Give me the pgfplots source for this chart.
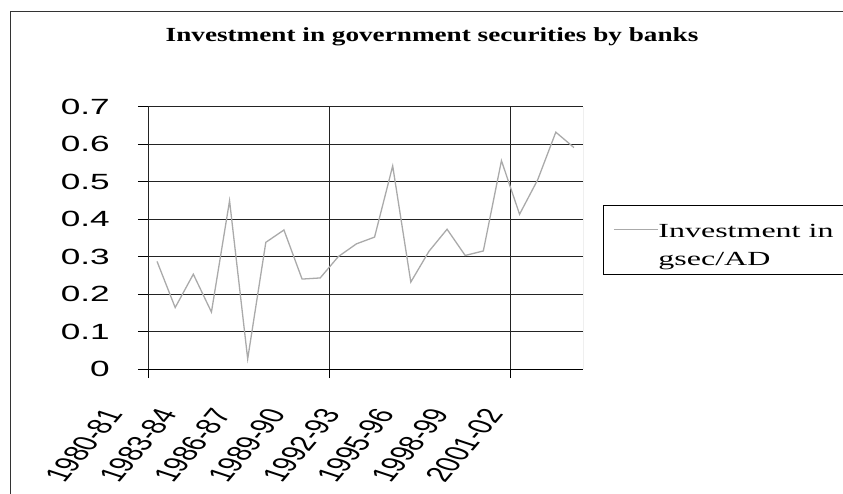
\documentclass[border=0pt]{standalone}
\usepackage{pgfplots}
\pgfplotsset{compat=1.18}
\usepackage{graphicx}
\usepackage{fontspec}
\setmainfont{Liberation Serif}
\newfontfamily\arial{Liberation Sans}
\definecolor{dataline}{RGB}{170,170,170}
\definecolor{gridc}{RGB}{35,35,35}
\newcommand\xl[1]{\scalebox{1.6}[1]{\rotatebox{62}{#1}}}
\newcommand\legtext{\scalebox{1.6}[1]{\begin{tabular}[t]{@{}l@{}}\rule{0pt}{32pt}Investment in\\gsec/AD\end{tabular}}}
\begin{document}
\begin{tikzpicture}
\draw[line width=1pt, black!80] (10pt,-30pt) -- (10pt,481pt) -- (900pt,481pt);
\begin{axis}[
  at={(148pt,124pt)}, anchor=south west,
  scale only axis, width=435pt, height=262.3pt,
  xmin=0.5, xmax=24.5, ymin=0, ymax=0.7,
  axis lines=left, axis line style={-, black, line width=0.9pt},
  ytick={0,0.1,0.2,0.3,0.4,0.5,0.6,0.7},
  ymajorgrids, grid style={gridc, line width=0.9pt},
  tick align=outside, major tick length=10pt,
  ytick style={black, line width=0.9pt},
  yticklabel={\scalebox{1.6}[1]{\arial\fontsize{22}{26}\selectfont\pgfmathprintnumber[assume math mode=true]{\tick}}},
  yticklabel style={inner sep=0pt, anchor=east, xshift=-28pt},
  xtick={1,4,7,10,13,16,19,22},
  xticklabels={\xl{1980-81},\xl{1983-84},\xl{1986-87},\xl{1989-90},\xl{1992-93},\xl{1995-96},\xl{1998-99},\xl{2001-02}},
  xtick style={draw=none},
  xticklabel style={inner sep=0pt, anchor=north east, font=\arial\fontsize{21.5}{26}\selectfont, xshift=-33pt, yshift=-28pt},
  extra x ticks={0.5,10.5,20.5},
  extra x tick labels={},
  extra x tick style={grid=major, xtick style={draw=black, line width=0.9pt}, major tick length=9pt},
  title={\scalebox{1.36}[1]{\fontsize{20}{23}\selectfont\bfseries Investment in government securities by banks}},
  title style={at={(axis description cs:0.653,1.2257)}, anchor=base, inner sep=0pt},
  legend style={at={(axis description cs:1.0453,0.625)}, anchor=north west, draw=black, line width=0.8pt,
    inner xsep=10pt, inner ysep=0pt, font=\fontsize{20}{28.5}\selectfont,
    nodes={inner sep=0pt, text depth=},
    /tikz/every even column/.append style={column sep=8pt}},
  legend cell align=left,
  legend image code/.code={\draw[#1] (0pt,10.3pt) -- (44pt,10.3pt);},
]
\addplot[dataline, line width=1.3pt] table {
x y
1 0.287
2 0.164
3 0.253
4 0.152
5 0.449
6 0.027
7 0.338
8 0.371
9 0.240
10 0.243
11 0.300
12 0.334
13 0.352
14 0.542
15 0.232
16 0.314
17 0.373
18 0.303
19 0.315
20 0.556
21 0.413
22 0.505
23 0.632
24 0.591
};
\addlegendentry{\legtext}
\draw[gray, line width=0.9pt] (rel axis cs:1,0) -- (rel axis cs:1,1);
\end{axis}
\pgfresetboundingbox
\useasboundingbox (0,0) rectangle (843pt,493pt);
\end{tikzpicture}
\end{document}
